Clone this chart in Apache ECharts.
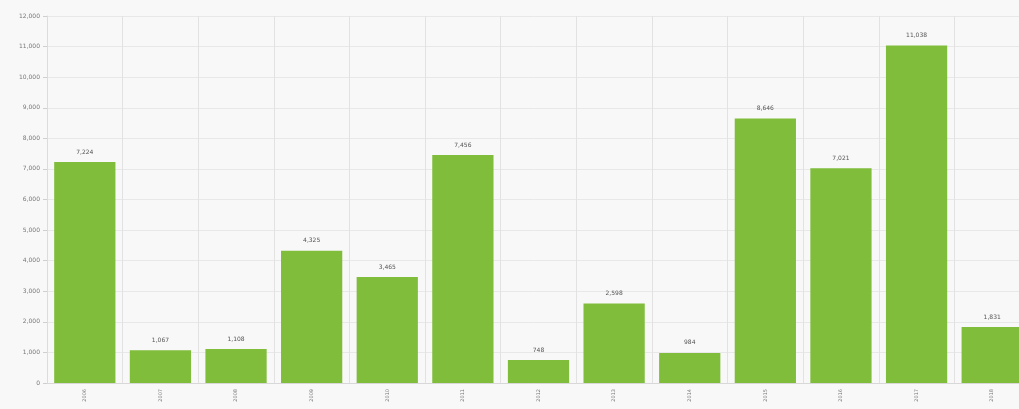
<!DOCTYPE html>
<html>
<head>
<meta charset="utf-8">
<script src="https://cdn.jsdelivr.net/npm/echarts@6/dist/echarts.min.js"></script>
<style>
  html, body { margin: 0; padding: 0; background: #f8f8f8; }
  #chart { width: 1019px; height: 409px; }
</style>
</head>
<body>
<div id="chart"></div>
<script>
// values (x labels too blurry to read, best guess)
const categories = ['2006', '2007', '2008', '2009', '2010', '2011', '2012', '2013', '2014', '2015', '2016', '2017', '2018']
const values = [7224, 1067, 1108, 4325, 3465, 7456, 748, 2598, 984, 8646, 7021, 11038, 1831]

const chart = echarts.init(document.getElementById('chart'))

chart.setOption({
  backgroundColor: '#f8f8f8',
  animation: false,
  grid: {
    left: 47,
    right: -11, // last column runs past the right edge
    top: 16,
    bottom: 26,
    containLabel: false,
    outerBoundsMode: 'none',
  },
  xAxis: {
    type: 'category',
    data: categories,
    axisLine: { lineStyle: { color: '#d8d8d8' } },
    axisTick: { show: false },
    splitLine: { show: true, interval: 0, lineStyle: { color: '#e2e2e2' } },
    axisLabel: {
      rotate: 90,
      fontSize: 5,
      color: '#777',
      margin: 6,
      fontFamily: 'DejaVu Sans',
    },
  },
  yAxis: {
    type: 'value',
    min: 0,
    max: 12000,
    interval: 1000,
    axisLine: { show: true, lineStyle: { color: '#dcdcdc' } },
    axisTick: { show: true, length: 4, lineStyle: { color: '#cfcfcf' } },
    splitLine: { lineStyle: { color: '#e8e8e8' } },
    axisLabel: {
      fontSize: 6,
      color: '#777',
      margin: 7,
      fontFamily: 'DejaVu Sans',
      formatter: (v) => v.toLocaleString('en-US'),
    },
  },
  series: [{
    type: 'bar',
    data: values,
    barWidth: '81%',
    itemStyle: { color: '#80bd3b' },
    label: {
      show: true,
      position: 'top',
      distance: 7,
      fontSize: 6,
      color: '#555',
      fontFamily: 'DejaVu Sans',
      formatter: (p) => p.value.toLocaleString('en-US'),
    },
  }],
})
</script>
</body>
</html>
